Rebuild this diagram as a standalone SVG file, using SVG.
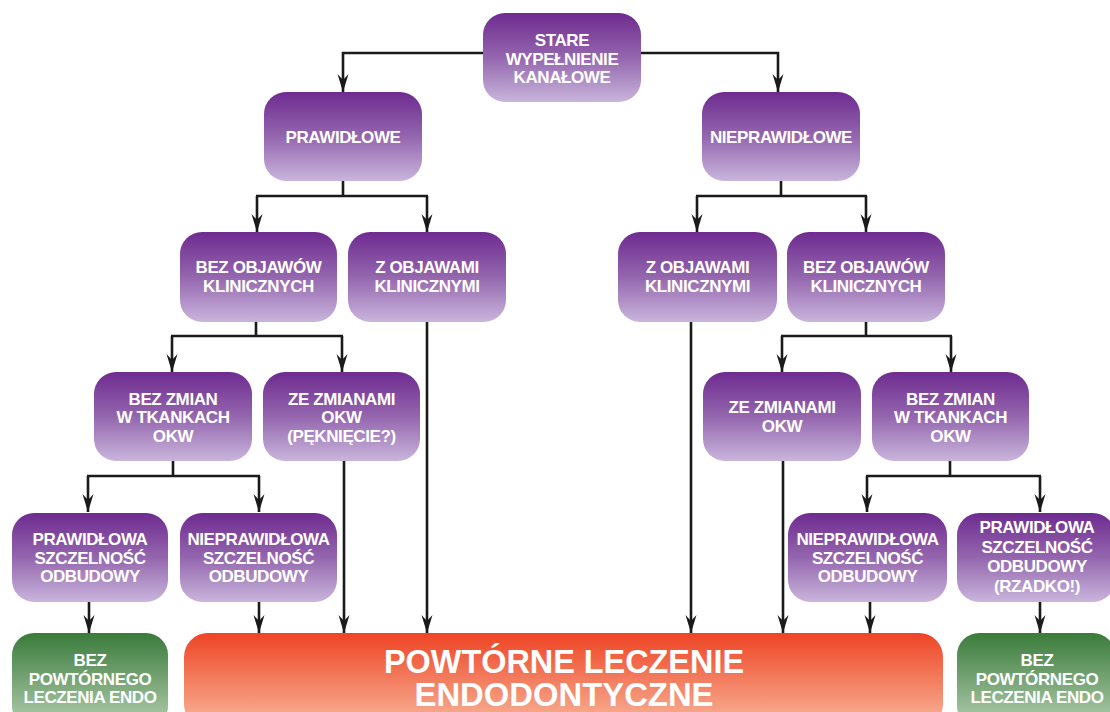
<svg xmlns="http://www.w3.org/2000/svg" width="1110" height="712" viewBox="0 0 1110 712">
<defs>
<linearGradient id="gp" x1="0" y1="0" x2="0" y2="1">
<stop offset="0" stop-color="#6e2b90"/>
<stop offset="0.5" stop-color="#9466ae"/>
<stop offset="1" stop-color="#c9b5dc"/>
</linearGradient>
<linearGradient id="gg" x1="0" y1="0" x2="0" y2="1">
<stop offset="0" stop-color="#3a7b3b"/>
<stop offset="1" stop-color="#b5cfb1"/>
</linearGradient>
<linearGradient id="gr" x1="0" y1="0" x2="0" y2="1">
<stop offset="0" stop-color="#ee4424"/>
<stop offset="1" stop-color="#f8b89d"/>
</linearGradient>
<marker id="ah" viewBox="-18 -6 19 12" refX="0" refY="0" markerWidth="19" markerHeight="12" markerUnits="userSpaceOnUse" orient="auto">
<path d="M0,0 L-18,-5.5 L-12,0 L-18,5.5 Z" fill="#1a1a1a"/>
</marker>
</defs>
<style>
.p{fill:url(#gp)}
.g{fill:url(#gg)}
.r{fill:url(#gr)}
text{font-family:"Liberation Sans",Arial,sans-serif;font-weight:bold;fill:#fff;text-anchor:middle;font-size:17px;letter-spacing:-0.4px}
.big{font-size:34px;letter-spacing:0}
.c{fill:none;stroke:#1a1a1a;stroke-width:2.6}
.a{marker-end:url(#ah)}
</style>

<g id="connectors">
<path class="c a" d="M483,53 H343 V92"/>
<path class="c a" d="M641,53 H778 V92"/>
<path class="c" d="M343,181 V196 M256,196 H428"/>
<path class="c a" d="M257,196 V232"/>
<path class="c a" d="M427,196 V232"/>
<path class="c" d="M781,181 V196 M696,196 H867"/>
<path class="c a" d="M697,196 V232"/>
<path class="c a" d="M866,196 V232"/>
<path class="c" d="M256,322 V336 M171,336 H343"/>
<path class="c a" d="M172,336 V372"/>
<path class="c a" d="M342,336 V372"/>
<path class="c a" d="M427,322 V633"/>
<path class="c a" d="M691,322 V633"/>
<path class="c" d="M866,322 V336 M781,336 H952"/>
<path class="c a" d="M782,336 V372"/>
<path class="c a" d="M951,336 V372"/>
<path class="c" d="M173,461 V476 M87,476 H260"/>
<path class="c a" d="M88,476 V512"/>
<path class="c a" d="M259,476 V512"/>
<path class="c a" d="M344,461 V633"/>
<path class="c a" d="M89,602 V633"/>
<path class="c a" d="M259,602 V633"/>
<path class="c a" d="M783,461 V633"/>
<path class="c" d="M950,461 V476 M866,476 H1041"/>
<path class="c a" d="M867,476 V512"/>
<path class="c a" d="M1040,476 V512"/>
<path class="c a" d="M870,602 V633"/>
<path class="c a" d="M1040,602 V633"/>
</g>

<g id="stare">
<rect class="p" x="483" y="13" width="158" height="89" rx="22"/>
<text x="562" y="46">STARE</text>
<text x="562" y="64.5">WYPEŁNIENIE</text>
<text x="562" y="83">KANAŁOWE</text>
</g>
<g id="prawidlowe">
<rect class="p" x="264" y="92" width="158" height="89" rx="22"/>
<text x="343" y="143">PRAWIDŁOWE</text>
</g>
<g id="nieprawidlowe">
<rect class="p" x="702" y="92" width="158" height="89" rx="22"/>
<text x="781" y="143">NIEPRAWIDŁOWE</text>
</g>
<g id="bez-objawow-l">
<rect class="p" x="180" y="232" width="157" height="90" rx="22"/>
<text x="258.5" y="273">BEZ OBJAWÓW</text>
<text x="258.5" y="291.5">KLINICZNYCH</text>
</g>
<g id="z-objawami-l">
<rect class="p" x="348" y="232" width="158" height="90" rx="22"/>
<text x="427" y="273">Z OBJAWAMI</text>
<text x="427" y="291.5">KLINICZNYMI</text>
</g>
<g id="z-objawami-r">
<rect class="p" x="618" y="232" width="159" height="90" rx="22"/>
<text x="697.5" y="273">Z OBJAWAMI</text>
<text x="697.5" y="291.5">KLINICZNYMI</text>
</g>
<g id="bez-objawow-r">
<rect class="p" x="787" y="232" width="158" height="90" rx="22"/>
<text x="866" y="273">BEZ OBJAWÓW</text>
<text x="866" y="291.5">KLINICZNYCH</text>
</g>
<g id="bez-zmian-l">
<rect class="p" x="94" y="372" width="158" height="89" rx="22"/>
<text x="173" y="404.5">BEZ ZMIAN</text>
<text x="173" y="423">W TKANKACH</text>
<text x="173" y="441.5">OKW</text>
</g>
<g id="ze-zmianami-l">
<rect class="p" x="263" y="372" width="157" height="89" rx="22"/>
<text x="341.5" y="404.5">ZE ZMIANAMI</text>
<text x="341.5" y="423">OKW</text>
<text x="341.5" y="441.5">(PĘKNIĘCIE?)</text>
</g>
<g id="ze-zmianami-r">
<rect class="p" x="703" y="372" width="158" height="89" rx="22"/>
<text x="782" y="413">ZE ZMIANAMI</text>
<text x="782" y="431.5">OKW</text>
</g>
<g id="bez-zmian-r">
<rect class="p" x="872" y="372" width="157" height="89" rx="22"/>
<text x="950.5" y="404.5">BEZ ZMIAN</text>
<text x="950.5" y="423">W TKANKACH</text>
<text x="950.5" y="441.5">OKW</text>
</g>
<g id="prawidlowa-l">
<rect class="p" x="12" y="513" width="156" height="89" rx="22"/>
<text x="90" y="545">PRAWIDŁOWA</text>
<text x="90" y="563.5">SZCZELNOŚĆ</text>
<text x="90" y="582">ODBUDOWY</text>
</g>
<g id="nieprawidlowa-l">
<rect class="p" x="180" y="513" width="157" height="89" rx="22"/>
<text x="258.5" y="545">NIEPRAWIDŁOWA</text>
<text x="258.5" y="563.5">SZCZELNOŚĆ</text>
<text x="258.5" y="582">ODBUDOWY</text>
</g>
<g id="nieprawidlowa-r">
<rect class="p" x="788" y="513" width="159" height="89" rx="22"/>
<text x="867.5" y="545">NIEPRAWIDŁOWA</text>
<text x="867.5" y="563.5">SZCZELNOŚĆ</text>
<text x="867.5" y="582">ODBUDOWY</text>
</g>
<g id="prawidlowa-r">
<rect class="p" x="957" y="513" width="158" height="89" rx="22"/>
<text x="1037" y="533">PRAWIDŁOWA</text>
<text x="1037" y="552.5">SZCZELNOŚĆ</text>
<text x="1037" y="572">ODBUDOWY</text>
<text x="1037" y="591.5">(RZADKO!)</text>
</g>
<g id="bez-powtornego-l">
<rect class="g" x="12" y="633" width="156" height="95" rx="22"/>
<text x="90" y="666">BEZ</text>
<text x="90" y="684.5">POWTÓRNEGO</text>
<text x="90" y="703">LECZENIA ENDO</text>
</g>
<g id="powtorne">
<rect class="r" x="184" y="633" width="759" height="95" rx="24"/>
<text class="big" x="564" y="673" textLength="360" lengthAdjust="spacingAndGlyphs">POWTÓRNE LECZENIE</text>
<text class="big" x="564" y="706" textLength="299" lengthAdjust="spacingAndGlyphs">ENDODONTYCZNE</text>
</g>
<g id="bez-powtornego-r">
<rect class="g" x="957" y="633" width="158" height="95" rx="22"/>
<text x="1037" y="666">BEZ</text>
<text x="1037" y="684.5">POWTÓRNEGO</text>
<text x="1037" y="703">LECZENIA ENDO</text>
</g>
</svg>
